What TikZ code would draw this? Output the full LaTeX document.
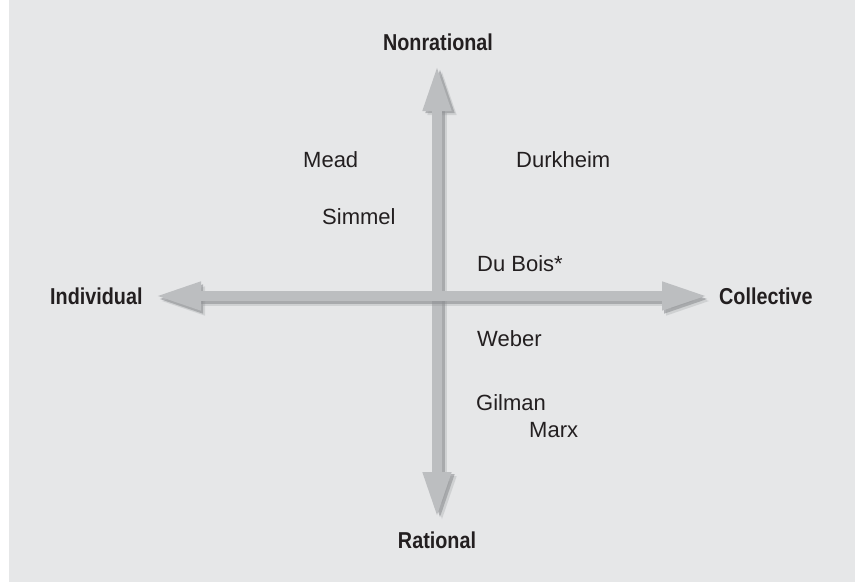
\documentclass[tikz,border=0pt]{standalone}
\usepackage{fontspec}
\setmainfont{Liberation Sans}
\newfontfamily\axisfont[FakeStretch=0.86]{Liberation Sans}
\usetikzlibrary{arrows.meta}

\begin{document}
\begin{tikzpicture}[x=1pt, y=-1pt]
    \definecolor{backColour}{HTML}{E6E7E8}
    \definecolor{arrowColour}{HTML}{BCBEC0}
    \definecolor{shadowColour}{HTML}{8E9093}
    \definecolor{textColour}{HTML}{231F20}

    \def\shaftWidth{10pt}
    \tikzset{
        axisarrow/.style={line width=\shaftWidth, draw=arrowColour,
            {Triangle[width=26pt,length=46pt]}-{Triangle[width=26pt,length=46pt]}},
        axisshadow/.style={axisarrow, draw=shadowColour},
        axislabel/.style={inner sep=0pt, text=textColour,
            font=\axisfont\bfseries\fontsize{23}{27}\selectfont},
        theorist/.style={inner sep=0pt, anchor=base west, text=textColour,
            font=\fontsize{22}{26}\selectfont}
    }

    % Draw background
    \useasboundingbox (0,0) rectangle (855,582);
    \fill[backColour] (9,0) rectangle (855,582);

    % Define ends of the axes
    \coordinate (top) at (437,65);
    \coordinate (bottom) at (437,518);
    \coordinate (left) at (155,296);
    \coordinate (right) at (708,296);

    % Draw vertical axis
    \draw[axisshadow, opacity=0.25] ([shift={(5,4)}]bottom) -- ([shift={(5,4)}]top);
    \draw[axisshadow, opacity=0.6] ([shift={(3,2)}]bottom) -- ([shift={(3,2)}]top);
    \draw[axisarrow] (bottom) -- (top);

    % Draw horizontal axis
    \draw[axisshadow, opacity=0.25] ([shift={(4,5)}]left) -- ([shift={(4,5)}]right);
    \draw[axisshadow, opacity=0.6] ([shift={(2,3)}]left) -- ([shift={(2,3)}]right);
    \draw[axisarrow] (left) -- (right);

    % Label the axes
    \node[axislabel, anchor=base] (nonrational) at (438,50) {Nonrational};
    \node[axislabel, anchor=base] (rational) at (437,548) {Rational};
    \node[axislabel, anchor=base west] (individual) at (50,304) {Individual};
    \node[axislabel, anchor=base west] (collective) at (719,304) {Collective};

    % Place the theorists
    \node[theorist] (mead) at (303,167) {Mead};
    \node[theorist] (durkheim) at (516,167) {Durkheim};
    \node[theorist] (simmel) at (322,224) {Simmel};
    \node[theorist] (dubois) at (477,271) {Du Bois*};
    \node[theorist] (weber) at (477,346) {Weber};
    \node[theorist] (gilman) at (476,410) {Gilman};
    \node[theorist] (marx) at (529,437) {Marx};

\end{tikzpicture}
\end{document}
